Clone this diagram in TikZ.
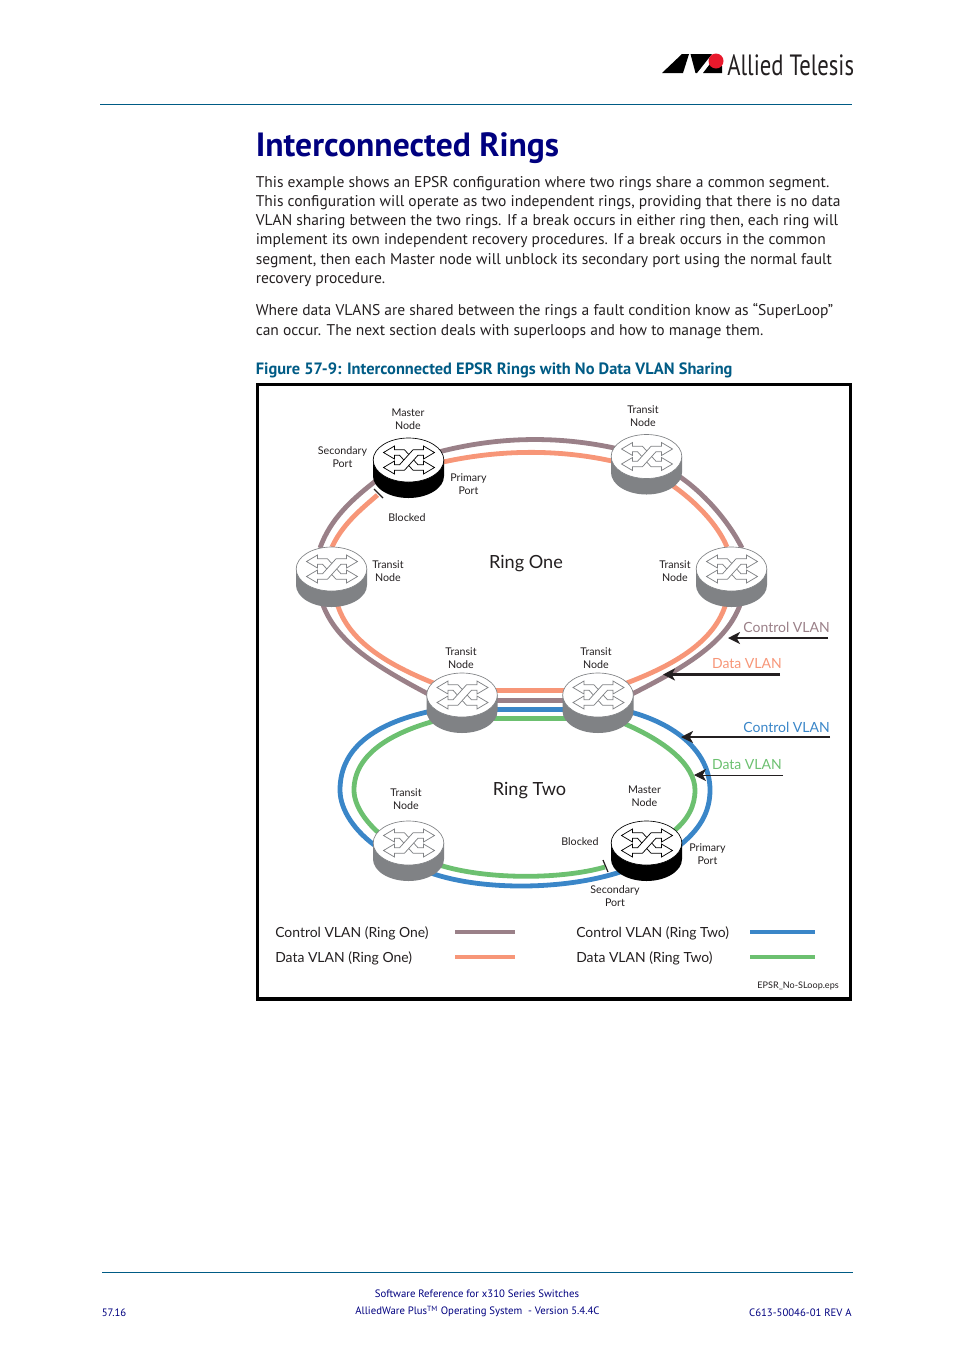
\documentclass[tikz,border=0pt]{standalone}
\usepackage{fontspec}
\setmainfont{PT Sans}
\newfontfamily\figfont{Lato}
\usetikzlibrary{arrows.meta,calc,shapes.geometric}

\definecolor{ctlone}{HTML}{9A8088}
\definecolor{dataone}{HTML}{F79678}
\definecolor{ctltwo}{HTML}{3A86C8}
\definecolor{datatwo}{HTML}{6CC070}
\definecolor{swgrey}{HTML}{808285}
\definecolor{inkdark}{HTML}{231F20}
\definecolor{rulecol}{HTML}{005B85}
\definecolor{titlecol}{HTML}{00007F}
\definecolor{logored}{HTML}{E8192C}

\tikzset{
  ctlonew/.style={draw=ctlone,line width=3.6pt},
  dataonew/.style={draw=dataone,line width=3.6pt},
  ctltwow/.style={draw=ctltwo,line width=3.6pt},
  datatwow/.style={draw=datatwo,line width=3.6pt},
  swtop/.style={ellipse,draw=swgrey,fill=white,line width=0.5pt,inner sep=0pt,minimum width=53pt,minimum height=33pt},
  lbl/.style={font=\figfont\fontsize{8}{10.1}\selectfont,text=inkdark,align=center,inner sep=0pt},
  vlan/.style={font=\figfont\fontsize{10.5}{13}\selectfont,inner sep=0pt},
  legend/.style={font=\figfont\fontsize{10.45}{13}\selectfont,text=inkdark,anchor=west,inner sep=0pt},
  ringname/.style={font=\figfont\fontsize{13.6}{16}\selectfont,text=inkdark,inner sep=0pt},
  pointer/.style={draw=inkdark,line width=1.6pt,-{Stealth[length=9pt,width=9pt,inset=2.5pt]}},
  tick/.style={draw=inkdark,line width=0.9pt},
  foot/.style={font=\fontsize{8.05}{9}\selectfont,text=titlecol,inner sep=0pt},
  swicon/.pic={
    \foreach \flip in {1,-1}{
      \filldraw[draw=#1,fill=white,line width=0.55pt,yscale=\flip] (-25,-7.5) -- (-14,-14) -- (-14,-10.2) -- (-4,-10.2) -- (9.5,4.8) -- (15,4.8)
        -- (15,1) -- (26,7.5) -- (15,14) -- (15,10.2) -- (4.5,10.2) -- (-9,-4.8) -- (-14,-4.8) -- (-14,-1) -- cycle;
    }
  },
  swside/.pic={
    \fill[#1] (-35.5,0) -- (-35.5,16) arc[start angle=180,end angle=0,x radius=35.5,y radius=22] -- (35.5,0) -- cycle;
  }
}

% one switch: name, position, side colour, icon colour
\newcommand{\switchnode}[4]{
  \pic at (#2) {swside=#3};
  \node[swtop,draw=#4] (#1) at (#2) {};
  \pic at (#2) {swicon=#4};
}

\begin{document}
\begin{tikzpicture}[x=0.75pt,y=-0.75pt]
  \useasboundingbox (0,0) rectangle (954,1350);

  % page head
  \coordinate (headl) at (100,104.5);
  \coordinate (headr) at (852,104.5);
  \draw[rulecol,line width=0.75pt] (headl) -- (headr);
  \fill[black] (662,73) -- (682,54) -- (689,54) -- (683,73) -- cycle;
  \fill[black] (690.5,54) -- (712,54) -- (697,73) -- (695.5,73) -- cycle;
  \fill[black] (703,73) -- (713,60) -- (722,66) -- (722,73) -- cycle;
  \fill[logored] (716,61) circle[radius=7.5];
  \node[anchor=west,inner sep=0pt] (brand) at (727,65) {\scalebox{0.85}[1.1]{\fontsize{20}{22}\selectfont\color{inkdark}Allied Telesis}};

  \node[anchor=west,inner sep=0pt,text=titlecol] (title) at (255.5,148.5) {\fontsize{25.2}{28}\selectfont\bfseries Interconnected Rings};
  \node[anchor=north west,inner sep=0pt,align=left,text=inkdark,font=\fontsize{11.65}{14.4}\selectfont] (para1) at (255.5,176) {This example shows an EPSR configuration where two rings share a common segment.\\
    This configuration will operate as two independent rings, providing that there is no data\\
    VLAN sharing between the two rings. If a break occurs in either ring then, each ring will\\
    implement its own independent recovery procedures. If a break occurs in the common\\
    segment, then each Master node will unblock its secondary port using the normal fault\\
    recovery procedure.};
  \node[anchor=north west,inner sep=0pt,align=left,text=inkdark,font=\fontsize{11.65}{14.4}\selectfont] (para2) at (255.5,303.5) {Where data VLANS are shared between the rings a fault condition know as ``SuperLoop''\\
    can occur. The next section deals with superloops and how to manage them.};
  \node[anchor=west,inner sep=0pt,text=rulecol,font=\fontsize{12.3}{14}\selectfont\bfseries] (caption) at (255.5,370.5) {Figure 57-9: Interconnected EPSR Rings with No Data VLAN Sharing};

  % figure frame
  \draw[black,line width=2.6pt] (257.5,384.5) rectangle (850.5,999);

  \coordinate (m1) at (408.5,460);
  \coordinate (t1) at (646.5,456.5);
  \coordinate (t2) at (331.5,569);
  \coordinate (t3) at (731.5,569);
  \coordinate (t4) at (462,695);
  \coordinate (t5) at (598,695);
  \coordinate (t6) at (408.5,843);
  \coordinate (m2) at (646.5,843);

  % ring one
  \draw[ctlonew] ($(m1)+(30,-8)$) .. controls (500,436) and (560,436) .. ($(t1)+(-30,-8)$);
  \draw[ctlonew] ($(t1)+(30,18)$) .. controls (702,491) and (728,520) .. ($(t3)+(10.5,-21)$);
  \draw[ctlonew] ($(t3)+(10.5,30)$) .. controls (730,640) and (690,665) .. ($(t5)+(30,1)$);
  \draw[ctlonew] ($(t5)+(0,5.3)$) -- ($(t4)+(0,5.3)$);
  \draw[ctlonew] ($(t4)+(-30,1)$) .. controls (373,665) and (333,640) .. ($(t2)+(-10.5,30)$);
  \draw[ctlonew] ($(t2)+(-11.5,-21)$) .. controls (330,520) and (350,500) .. ($(m1)+(-25,15)$);

  \draw[dataonew] ($(m1)+(30,3)$) .. controls (500,449) and (560,449) .. ($(t1)+(-30,5.5)$);
  \draw[dataonew] ($(t1)+(20,25)$) .. controls (695,500) and (718,525) .. ($(t3)+(-4.5,-22)$);
  \draw[dataonew] ($(t3)+(-4.5,30)$) .. controls (718,640) and (675,665) .. ($(t5)+(26,-11)$);
  \draw[dataonew] ($(t5)+(0,-4.3)$) -- ($(t4)+(0,-4.3)$);
  \draw[dataonew] ($(t4)+(-26,-11)$) .. controls (388,665) and (345,640) .. ($(t2)+(4.5,30)$);
  \draw[dataonew] ($(t2)+(0.5,-22)$) .. controls (342,525) and (360,510) .. (377.5,495);

  % ring two
  \draw[ctltwow] ($(t5)+(0,14.3)$) -- ($(t4)+(0,14.3)$);
  \draw[ctltwow] ($(t4)+(-20,14)$) .. controls (380,720) and (340,745) .. (340,790)
    .. controls (340,810) and (355,832) .. ($(t6)+(-30,5)$);
  \draw[ctltwow] ($(t6)+(10,25)$) .. controls (470,892) and (570,892) .. ($(m2)+(-15,25)$);
  \draw[ctltwow] ($(m2)+(30,5)$) .. controls (700,830) and (710,812) .. (710,790)
    .. controls (710,750) and (672,720) .. ($(t5)+(20,14)$);

  \draw[datatwow] ($(t5)+(0,23.7)$) -- ($(t4)+(0,23.7)$);
  \draw[datatwow] ($(t4)+(-20,24)$) .. controls (390,732) and (354,755) .. (354,790)
    .. controls (354,805) and (365,822) .. ($(t6)+(-25,-6)$);
  \draw[datatwow] ($(t6)+(25,20)$) .. controls (480,880) and (560,880) .. (605,867);
  \draw[datatwow] ($(m2)+(25,-10)$) .. controls (688,820) and (695,806) .. (695,790)
    .. controls (695,765) and (665,740) .. ($(t5)+(20,26)$);

  % blocked ports
  \coordinate (bk1a) at (374,489);
  \coordinate (bk1b) at (383,498);
  \coordinate (bk2a) at (603,860);
  \coordinate (bk2b) at (608,872);
  \draw[tick] (bk1a) -- (bk1b);
  \draw[tick] (bk2a) -- (bk2b);

  % switches
  \switchnode{sw1}{m1}{black}{black}
  \switchnode{sw2}{t1}{swgrey}{swgrey}
  \switchnode{sw3}{t2}{swgrey}{swgrey}
  \switchnode{sw4}{t3}{swgrey}{swgrey}
  \switchnode{sw5}{t4}{swgrey}{swgrey}
  \switchnode{sw6}{t5}{swgrey}{swgrey}
  \switchnode{sw7}{t6}{swgrey}{swgrey}
  \switchnode{sw8}{m2}{black}{black}

  % labels
  \node[lbl] (lm1) at (408,419) {Master\\Node};
  \node[lbl] (lt1) at (643,416) {Transit\\Node};
  \node[lbl] (lsec1) at (342.5,457) {Secondary\\Port};
  \node[lbl] (lpri1) at (468.5,484) {Primary\\Port};
  \node[lbl] (lblk1) at (407,518) {Blocked};
  \node[lbl] (lt2) at (388,571) {Transit\\Node};
  \node[lbl] (lt3) at (675,571) {Transit\\Node};
  \node[lbl] (lt4) at (461,658) {Transit\\Node};
  \node[lbl] (lt5) at (596,658) {Transit\\Node};
  \node[lbl] (lt6) at (406,799) {Transit\\Node};
  \node[lbl] (lm2) at (644.5,796) {Master\\Node};
  \node[lbl] (lblk2) at (580,842) {Blocked};
  \node[lbl] (lpri2) at (707.5,854) {Primary\\Port};
  \node[lbl] (lsec2) at (615,896) {Secondary\\Port};
  \node[ringname] (rone) at (526,564) {Ring One};
  \node[ringname] (rtwo) at (529.5,791) {Ring Two};

  % pointers
  \node[vlan,text=ctlone,anchor=east] (vc1) at (830,627) {Control VLAN};
  \node[vlan,text=dataone,anchor=east] (vd1) at (782,664) {Data VLAN};
  \node[vlan,text=ctltwo,anchor=east] (vc2) at (830,727) {Control VLAN};
  \node[vlan,text=datatwo,anchor=east] (vd2) at (782,765) {Data VLAN};
  \coordinate (pc1s) at (828,638);
  \coordinate (pc1e) at (728,638);
  \coordinate (pd1s) at (780,674.5);
  \coordinate (pd1e) at (663,674.5);
  \coordinate (pc2s) at (830,737);
  \coordinate (pc2e) at (681,737);
  \coordinate (pd2s) at (783,775);
  \coordinate (pd2e) at (694,775);
  \draw[pointer] (pc1s) -- (pc1e);
  \draw[pointer] (pd1s) -- (pd1e);
  \draw[pointer] (pc2s) -- (pc2e);
  \draw[pointer,line width=0.7pt] (pd2s) -- (pd2e);

  % legend
  \node[legend] (lg1) at (275,933) {Control VLAN (Ring One)};
  \node[legend] (lg2) at (275,958) {Data VLAN (Ring One)};
  \node[legend] (lg3) at (576,933) {Control VLAN (Ring Two)};
  \node[legend] (lg4) at (576,958) {Data VLAN (Ring Two)};
  \coordinate (k1a) at (455,931.5);
  \coordinate (k1b) at (515,931.5);
  \coordinate (k2a) at (455,956.5);
  \coordinate (k2b) at (515,956.5);
  \coordinate (k3a) at (750,931.5);
  \coordinate (k3b) at (815,931.5);
  \coordinate (k4a) at (750,956.5);
  \coordinate (k4b) at (815,956.5);
  \draw[ctlone,line width=3pt] (k1a) -- (k1b);
  \draw[dataone,line width=3pt] (k2a) -- (k2b);
  \draw[ctltwo,line width=3pt] (k3a) -- (k3b);
  \draw[datatwo,line width=3pt] (k4a) -- (k4b);
  \node[anchor=east,inner sep=0pt,text=inkdark,font=\figfont\fontsize{6.8}{8}\selectfont] (epsfile) at (839,986) {EPSR\_No-SLoop.eps};

  % page foot
  \coordinate (footl) at (102,1272.5);
  \coordinate (footr) at (853,1272.5);
  \draw[rulecol,line width=0.75pt] (footl) -- (footr);
  \node[foot] (f1) at (477,1293.5) {Software Reference for x310 Series Switches};
  \node[foot,anchor=west] (f2) at (101.5,1312.5) {57.16};
  \node[foot] (f3) at (477.5,1311.5) {AlliedWare Plus$^{\mathrm{TM}}$ Operating System\ \ - Version 5.4.4C};
  \node[foot,anchor=east] (f4) at (852,1312.5) {C613-50046-01 REV A};
\end{tikzpicture}
\end{document}
